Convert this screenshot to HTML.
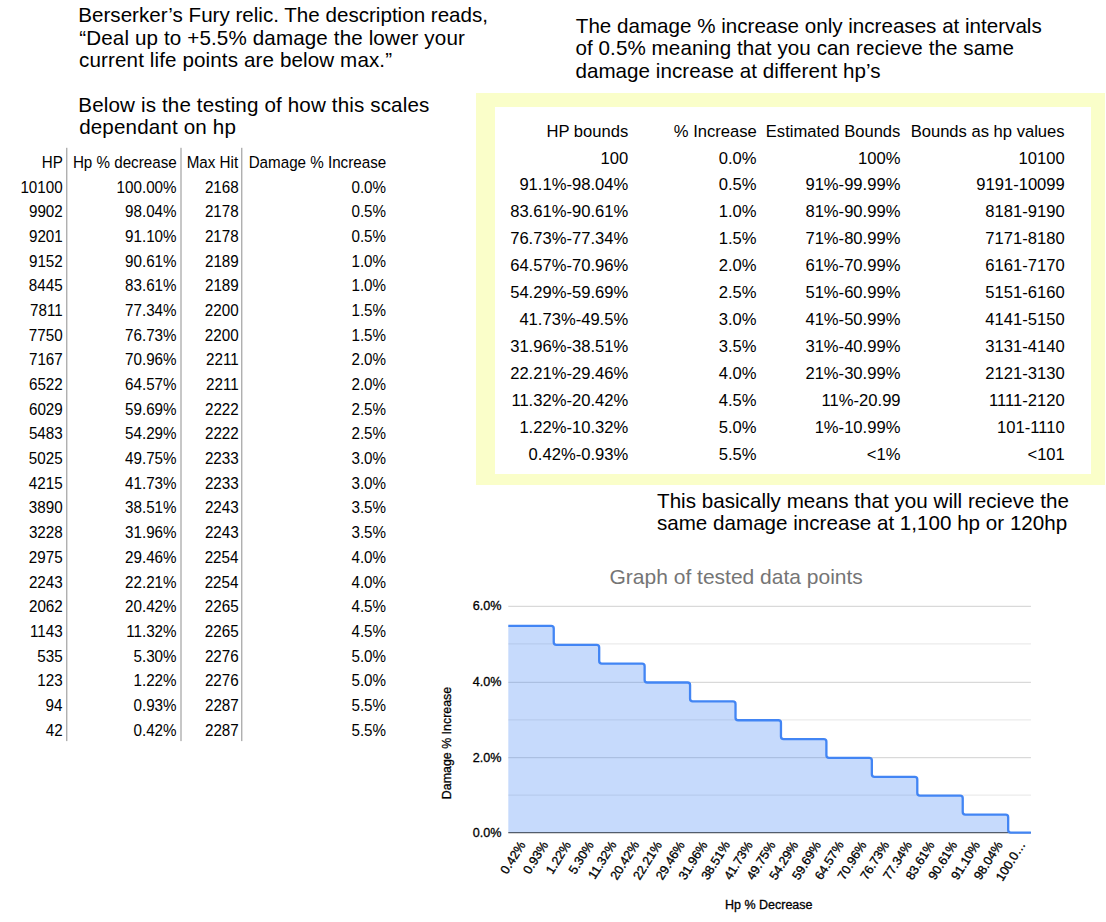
<!DOCTYPE html>
<html><head><meta charset="utf-8"><style>
html,body{margin:0;padding:0;background:#fff;width:1106px;height:922px;overflow:hidden}
svg{display:block}
text{font-family:"Liberation Sans",sans-serif;white-space:pre}
</style></head><body>
<svg width="1106" height="922" viewBox="0 0 1106 922">
<rect width="1106" height="922" fill="#fff"/>
<rect x="476" y="93" width="629" height="392" fill="#fafec9"/><rect x="495" y="107" width="596" height="367" fill="#fff"/>
<text x="78.31" y="22.30" font-size="20.6" text-anchor="start" fill="#000">Berserker’s Fury relic. The description reads,</text>
<text x="79.25" y="44.70" font-size="20.6" text-anchor="start" fill="#000" letter-spacing="0.130">“Deal up to +5.5% damage the lower your</text>
<text x="79.12" y="67.10" font-size="20.6" text-anchor="start" fill="#000" letter-spacing="0.115">current life points are below max.”</text>
<text x="78.31" y="111.90" font-size="20.6" text-anchor="start" fill="#000" letter-spacing="0.140">Below is the testing of how this scales</text>
<text x="79.13" y="134.30" font-size="20.6" text-anchor="start" fill="#000" letter-spacing="0.150">dependant on hp</text>
<text x="575.84" y="33.20" font-size="20.6" text-anchor="start" fill="#000">The damage % increase only increases at intervals</text>
<text x="575.43" y="55.40" font-size="20.6" text-anchor="start" fill="#000" letter-spacing="0.080">of 0.5% meaning that you can recieve the same</text>
<text x="575.43" y="77.60" font-size="20.6" text-anchor="start" fill="#000" letter-spacing="0.040">damage increase at different hp’s</text>
<text x="657.04" y="507.50" font-size="20.6" text-anchor="start" fill="#000" letter-spacing="0.020">This basically means that you will recieve the</text>
<text x="656.93" y="529.70" font-size="20.6" text-anchor="start" fill="#000" letter-spacing="0.010">same damage increase at 1,100 hp or 120hp</text>
<text transform="matrix(1 0 0 1.03 62.80 167.70)" font-size="15.2" text-anchor="end" fill="#000">HP</text>
<text transform="matrix(1 0 0 1.03 176.68 167.70)" font-size="15.2" text-anchor="end" fill="#000">Hp % decrease</text>
<text transform="matrix(1 0 0 1.03 238.11 167.70)" font-size="15.2" text-anchor="end" fill="#000">Max Hit</text>
<text transform="matrix(1 0 0 1.03 386.18 167.70)" font-size="15.2" text-anchor="end" fill="#000">Damage % Increase</text>
<text transform="matrix(1 0 0 1.03 62.59 192.50)" font-size="15.2" text-anchor="end" fill="#000">10100</text>
<text transform="matrix(1 0 0 1.03 176.54 192.50)" font-size="15.2" text-anchor="end" fill="#000">100.00%</text>
<text transform="matrix(1 0 0 1.03 238.66 192.50)" font-size="15.2" text-anchor="end" fill="#000">2168</text>
<text transform="matrix(1 0 0 1.03 386.04 192.50)" font-size="15.2" text-anchor="end" fill="#000">0.0%</text>
<text transform="matrix(1 0 0 1.03 62.76 217.19)" font-size="15.2" text-anchor="end" fill="#000">9902</text>
<text transform="matrix(1 0 0 1.03 176.54 217.19)" font-size="15.2" text-anchor="end" fill="#000">98.04%</text>
<text transform="matrix(1 0 0 1.03 238.66 217.19)" font-size="15.2" text-anchor="end" fill="#000">2178</text>
<text transform="matrix(1 0 0 1.03 386.04 217.19)" font-size="15.2" text-anchor="end" fill="#000">0.5%</text>
<text transform="matrix(1 0 0 1.03 62.74 241.88)" font-size="15.2" text-anchor="end" fill="#000">9201</text>
<text transform="matrix(1 0 0 1.03 176.54 241.88)" font-size="15.2" text-anchor="end" fill="#000">91.10%</text>
<text transform="matrix(1 0 0 1.03 238.66 241.88)" font-size="15.2" text-anchor="end" fill="#000">2178</text>
<text transform="matrix(1 0 0 1.03 386.04 241.88)" font-size="15.2" text-anchor="end" fill="#000">0.5%</text>
<text transform="matrix(1 0 0 1.03 62.76 266.57)" font-size="15.2" text-anchor="end" fill="#000">9152</text>
<text transform="matrix(1 0 0 1.03 176.54 266.57)" font-size="15.2" text-anchor="end" fill="#000">90.61%</text>
<text transform="matrix(1 0 0 1.03 238.72 266.57)" font-size="15.2" text-anchor="end" fill="#000">2189</text>
<text transform="matrix(1 0 0 1.03 386.04 266.57)" font-size="15.2" text-anchor="end" fill="#000">1.0%</text>
<text transform="matrix(1 0 0 1.03 62.64 291.26)" font-size="15.2" text-anchor="end" fill="#000">8445</text>
<text transform="matrix(1 0 0 1.03 176.54 291.26)" font-size="15.2" text-anchor="end" fill="#000">83.61%</text>
<text transform="matrix(1 0 0 1.03 238.72 291.26)" font-size="15.2" text-anchor="end" fill="#000">2189</text>
<text transform="matrix(1 0 0 1.03 386.04 291.26)" font-size="15.2" text-anchor="end" fill="#000">1.0%</text>
<text transform="matrix(1 0 0 1.03 62.74 315.95)" font-size="15.2" text-anchor="end" fill="#000">7811</text>
<text transform="matrix(1 0 0 1.03 176.54 315.95)" font-size="15.2" text-anchor="end" fill="#000">77.34%</text>
<text transform="matrix(1 0 0 1.03 238.59 315.95)" font-size="15.2" text-anchor="end" fill="#000">2200</text>
<text transform="matrix(1 0 0 1.03 386.04 315.95)" font-size="15.2" text-anchor="end" fill="#000">1.5%</text>
<text transform="matrix(1 0 0 1.03 62.59 340.64)" font-size="15.2" text-anchor="end" fill="#000">7750</text>
<text transform="matrix(1 0 0 1.03 176.54 340.64)" font-size="15.2" text-anchor="end" fill="#000">76.73%</text>
<text transform="matrix(1 0 0 1.03 238.59 340.64)" font-size="15.2" text-anchor="end" fill="#000">2200</text>
<text transform="matrix(1 0 0 1.03 386.04 340.64)" font-size="15.2" text-anchor="end" fill="#000">1.5%</text>
<text transform="matrix(1 0 0 1.03 62.76 365.33)" font-size="15.2" text-anchor="end" fill="#000">7167</text>
<text transform="matrix(1 0 0 1.03 176.54 365.33)" font-size="15.2" text-anchor="end" fill="#000">70.96%</text>
<text transform="matrix(1 0 0 1.03 238.74 365.33)" font-size="15.2" text-anchor="end" fill="#000">2211</text>
<text transform="matrix(1 0 0 1.03 386.04 365.33)" font-size="15.2" text-anchor="end" fill="#000">2.0%</text>
<text transform="matrix(1 0 0 1.03 62.76 390.02)" font-size="15.2" text-anchor="end" fill="#000">6522</text>
<text transform="matrix(1 0 0 1.03 176.54 390.02)" font-size="15.2" text-anchor="end" fill="#000">64.57%</text>
<text transform="matrix(1 0 0 1.03 238.74 390.02)" font-size="15.2" text-anchor="end" fill="#000">2211</text>
<text transform="matrix(1 0 0 1.03 386.04 390.02)" font-size="15.2" text-anchor="end" fill="#000">2.0%</text>
<text transform="matrix(1 0 0 1.03 62.72 414.71)" font-size="15.2" text-anchor="end" fill="#000">6029</text>
<text transform="matrix(1 0 0 1.03 176.54 414.71)" font-size="15.2" text-anchor="end" fill="#000">59.69%</text>
<text transform="matrix(1 0 0 1.03 238.76 414.71)" font-size="15.2" text-anchor="end" fill="#000">2222</text>
<text transform="matrix(1 0 0 1.03 386.04 414.71)" font-size="15.2" text-anchor="end" fill="#000">2.5%</text>
<text transform="matrix(1 0 0 1.03 62.67 439.40)" font-size="15.2" text-anchor="end" fill="#000">5483</text>
<text transform="matrix(1 0 0 1.03 176.54 439.40)" font-size="15.2" text-anchor="end" fill="#000">54.29%</text>
<text transform="matrix(1 0 0 1.03 238.76 439.40)" font-size="15.2" text-anchor="end" fill="#000">2222</text>
<text transform="matrix(1 0 0 1.03 386.04 439.40)" font-size="15.2" text-anchor="end" fill="#000">2.5%</text>
<text transform="matrix(1 0 0 1.03 62.64 464.09)" font-size="15.2" text-anchor="end" fill="#000">5025</text>
<text transform="matrix(1 0 0 1.03 176.54 464.09)" font-size="15.2" text-anchor="end" fill="#000">49.75%</text>
<text transform="matrix(1 0 0 1.03 238.67 464.09)" font-size="15.2" text-anchor="end" fill="#000">2233</text>
<text transform="matrix(1 0 0 1.03 386.04 464.09)" font-size="15.2" text-anchor="end" fill="#000">3.0%</text>
<text transform="matrix(1 0 0 1.03 62.64 488.78)" font-size="15.2" text-anchor="end" fill="#000">4215</text>
<text transform="matrix(1 0 0 1.03 176.54 488.78)" font-size="15.2" text-anchor="end" fill="#000">41.73%</text>
<text transform="matrix(1 0 0 1.03 238.67 488.78)" font-size="15.2" text-anchor="end" fill="#000">2233</text>
<text transform="matrix(1 0 0 1.03 386.04 488.78)" font-size="15.2" text-anchor="end" fill="#000">3.0%</text>
<text transform="matrix(1 0 0 1.03 62.59 513.47)" font-size="15.2" text-anchor="end" fill="#000">3890</text>
<text transform="matrix(1 0 0 1.03 176.54 513.47)" font-size="15.2" text-anchor="end" fill="#000">38.51%</text>
<text transform="matrix(1 0 0 1.03 238.67 513.47)" font-size="15.2" text-anchor="end" fill="#000">2243</text>
<text transform="matrix(1 0 0 1.03 386.04 513.47)" font-size="15.2" text-anchor="end" fill="#000">3.5%</text>
<text transform="matrix(1 0 0 1.03 62.66 538.16)" font-size="15.2" text-anchor="end" fill="#000">3228</text>
<text transform="matrix(1 0 0 1.03 176.54 538.16)" font-size="15.2" text-anchor="end" fill="#000">31.96%</text>
<text transform="matrix(1 0 0 1.03 238.67 538.16)" font-size="15.2" text-anchor="end" fill="#000">2243</text>
<text transform="matrix(1 0 0 1.03 386.04 538.16)" font-size="15.2" text-anchor="end" fill="#000">3.5%</text>
<text transform="matrix(1 0 0 1.03 62.64 562.85)" font-size="15.2" text-anchor="end" fill="#000">2975</text>
<text transform="matrix(1 0 0 1.03 176.54 562.85)" font-size="15.2" text-anchor="end" fill="#000">29.46%</text>
<text transform="matrix(1 0 0 1.03 238.45 562.85)" font-size="15.2" text-anchor="end" fill="#000">2254</text>
<text transform="matrix(1 0 0 1.03 386.04 562.85)" font-size="15.2" text-anchor="end" fill="#000">4.0%</text>
<text transform="matrix(1 0 0 1.03 62.67 587.54)" font-size="15.2" text-anchor="end" fill="#000">2243</text>
<text transform="matrix(1 0 0 1.03 176.54 587.54)" font-size="15.2" text-anchor="end" fill="#000">22.21%</text>
<text transform="matrix(1 0 0 1.03 238.45 587.54)" font-size="15.2" text-anchor="end" fill="#000">2254</text>
<text transform="matrix(1 0 0 1.03 386.04 587.54)" font-size="15.2" text-anchor="end" fill="#000">4.0%</text>
<text transform="matrix(1 0 0 1.03 62.76 612.23)" font-size="15.2" text-anchor="end" fill="#000">2062</text>
<text transform="matrix(1 0 0 1.03 176.54 612.23)" font-size="15.2" text-anchor="end" fill="#000">20.42%</text>
<text transform="matrix(1 0 0 1.03 238.64 612.23)" font-size="15.2" text-anchor="end" fill="#000">2265</text>
<text transform="matrix(1 0 0 1.03 386.04 612.23)" font-size="15.2" text-anchor="end" fill="#000">4.5%</text>
<text transform="matrix(1 0 0 1.03 62.67 636.92)" font-size="15.2" text-anchor="end" fill="#000">1143</text>
<text transform="matrix(1 0 0 1.03 176.54 636.92)" font-size="15.2" text-anchor="end" fill="#000">11.32%</text>
<text transform="matrix(1 0 0 1.03 238.64 636.92)" font-size="15.2" text-anchor="end" fill="#000">2265</text>
<text transform="matrix(1 0 0 1.03 386.04 636.92)" font-size="15.2" text-anchor="end" fill="#000">4.5%</text>
<text transform="matrix(1 0 0 1.03 62.64 661.61)" font-size="15.2" text-anchor="end" fill="#000">535</text>
<text transform="matrix(1 0 0 1.03 176.54 661.61)" font-size="15.2" text-anchor="end" fill="#000">5.30%</text>
<text transform="matrix(1 0 0 1.03 238.67 661.61)" font-size="15.2" text-anchor="end" fill="#000">2276</text>
<text transform="matrix(1 0 0 1.03 386.04 661.61)" font-size="15.2" text-anchor="end" fill="#000">5.0%</text>
<text transform="matrix(1 0 0 1.03 62.67 686.30)" font-size="15.2" text-anchor="end" fill="#000">123</text>
<text transform="matrix(1 0 0 1.03 176.54 686.30)" font-size="15.2" text-anchor="end" fill="#000">1.22%</text>
<text transform="matrix(1 0 0 1.03 238.67 686.30)" font-size="15.2" text-anchor="end" fill="#000">2276</text>
<text transform="matrix(1 0 0 1.03 386.04 686.30)" font-size="15.2" text-anchor="end" fill="#000">5.0%</text>
<text transform="matrix(1 0 0 1.03 62.45 710.99)" font-size="15.2" text-anchor="end" fill="#000">94</text>
<text transform="matrix(1 0 0 1.03 176.54 710.99)" font-size="15.2" text-anchor="end" fill="#000">0.93%</text>
<text transform="matrix(1 0 0 1.03 238.76 710.99)" font-size="15.2" text-anchor="end" fill="#000">2287</text>
<text transform="matrix(1 0 0 1.03 386.04 710.99)" font-size="15.2" text-anchor="end" fill="#000">5.5%</text>
<text transform="matrix(1 0 0 1.03 62.76 735.68)" font-size="15.2" text-anchor="end" fill="#000">42</text>
<text transform="matrix(1 0 0 1.03 176.54 735.68)" font-size="15.2" text-anchor="end" fill="#000">0.42%</text>
<text transform="matrix(1 0 0 1.03 238.76 735.68)" font-size="15.2" text-anchor="end" fill="#000">2287</text>
<text transform="matrix(1 0 0 1.03 386.04 735.68)" font-size="15.2" text-anchor="end" fill="#000">5.5%</text>
<rect x="66.30" y="147.8" width="1.0" height="593.3" fill="#8f8f8f"/>
<rect x="180.50" y="147.8" width="1.0" height="593.3" fill="#8f8f8f"/>
<rect x="241.30" y="147.8" width="1.0" height="593.3" fill="#8f8f8f"/>
<text transform="matrix(1 0 0 1.02 628.20 137.10)" font-size="16.6" text-anchor="end" fill="#000">HP bounds</text>
<text transform="matrix(1 0 0 1.02 756.74 137.10)" font-size="16.6" text-anchor="end" fill="#000">% Increase</text>
<text transform="matrix(1 0 0 1.02 900.40 137.10)" font-size="16.6" text-anchor="end" fill="#000">Estimated Bounds</text>
<text transform="matrix(1 0 0 1.02 1064.60 137.10)" font-size="16.6" text-anchor="end" fill="#000">Bounds as hp values</text>
<text transform="matrix(1 0 0 1.02 628.25 163.50)" font-size="16.6" text-anchor="end" fill="#000">100</text>
<text transform="matrix(1 0 0 1.02 756.59 163.50)" font-size="16.6" text-anchor="end" fill="#000">0.0%</text>
<text transform="matrix(1 0 0 1.02 900.39 163.50)" font-size="16.6" text-anchor="end" fill="#000">100%</text>
<text transform="matrix(1 0 0 1.02 1064.65 163.50)" font-size="16.6" text-anchor="end" fill="#000">10100</text>
<text transform="matrix(1 0 0 1.02 628.19 190.47)" font-size="16.6" text-anchor="end" fill="#000">91.1%-98.04%</text>
<text transform="matrix(1 0 0 1.02 756.59 190.47)" font-size="16.6" text-anchor="end" fill="#000">0.5%</text>
<text transform="matrix(1 0 0 1.02 900.39 190.47)" font-size="16.6" text-anchor="end" fill="#000">91%-99.99%</text>
<text transform="matrix(1 0 0 1.02 1064.79 190.47)" font-size="16.6" text-anchor="end" fill="#000">9191-10099</text>
<text transform="matrix(1 0 0 1.02 628.19 217.44)" font-size="16.6" text-anchor="end" fill="#000">83.61%-90.61%</text>
<text transform="matrix(1 0 0 1.02 756.59 217.44)" font-size="16.6" text-anchor="end" fill="#000">1.0%</text>
<text transform="matrix(1 0 0 1.02 900.39 217.44)" font-size="16.6" text-anchor="end" fill="#000">81%-90.99%</text>
<text transform="matrix(1 0 0 1.02 1064.65 217.44)" font-size="16.6" text-anchor="end" fill="#000">8181-9190</text>
<text transform="matrix(1 0 0 1.02 628.19 244.41)" font-size="16.6" text-anchor="end" fill="#000">76.73%-77.34%</text>
<text transform="matrix(1 0 0 1.02 756.59 244.41)" font-size="16.6" text-anchor="end" fill="#000">1.5%</text>
<text transform="matrix(1 0 0 1.02 900.39 244.41)" font-size="16.6" text-anchor="end" fill="#000">71%-80.99%</text>
<text transform="matrix(1 0 0 1.02 1064.65 244.41)" font-size="16.6" text-anchor="end" fill="#000">7171-8180</text>
<text transform="matrix(1 0 0 1.02 628.19 271.38)" font-size="16.6" text-anchor="end" fill="#000">64.57%-70.96%</text>
<text transform="matrix(1 0 0 1.02 756.59 271.38)" font-size="16.6" text-anchor="end" fill="#000">2.0%</text>
<text transform="matrix(1 0 0 1.02 900.39 271.38)" font-size="16.6" text-anchor="end" fill="#000">61%-70.99%</text>
<text transform="matrix(1 0 0 1.02 1064.65 271.38)" font-size="16.6" text-anchor="end" fill="#000">6161-7170</text>
<text transform="matrix(1 0 0 1.02 628.19 298.35)" font-size="16.6" text-anchor="end" fill="#000">54.29%-59.69%</text>
<text transform="matrix(1 0 0 1.02 756.59 298.35)" font-size="16.6" text-anchor="end" fill="#000">2.5%</text>
<text transform="matrix(1 0 0 1.02 900.39 298.35)" font-size="16.6" text-anchor="end" fill="#000">51%-60.99%</text>
<text transform="matrix(1 0 0 1.02 1064.65 298.35)" font-size="16.6" text-anchor="end" fill="#000">5151-6160</text>
<text transform="matrix(1 0 0 1.02 628.19 325.32)" font-size="16.6" text-anchor="end" fill="#000">41.73%-49.5%</text>
<text transform="matrix(1 0 0 1.02 756.59 325.32)" font-size="16.6" text-anchor="end" fill="#000">3.0%</text>
<text transform="matrix(1 0 0 1.02 900.39 325.32)" font-size="16.6" text-anchor="end" fill="#000">41%-50.99%</text>
<text transform="matrix(1 0 0 1.02 1064.65 325.32)" font-size="16.6" text-anchor="end" fill="#000">4141-5150</text>
<text transform="matrix(1 0 0 1.02 628.19 352.29)" font-size="16.6" text-anchor="end" fill="#000">31.96%-38.51%</text>
<text transform="matrix(1 0 0 1.02 756.59 352.29)" font-size="16.6" text-anchor="end" fill="#000">3.5%</text>
<text transform="matrix(1 0 0 1.02 900.39 352.29)" font-size="16.6" text-anchor="end" fill="#000">31%-40.99%</text>
<text transform="matrix(1 0 0 1.02 1064.65 352.29)" font-size="16.6" text-anchor="end" fill="#000">3131-4140</text>
<text transform="matrix(1 0 0 1.02 628.19 379.26)" font-size="16.6" text-anchor="end" fill="#000">22.21%-29.46%</text>
<text transform="matrix(1 0 0 1.02 756.59 379.26)" font-size="16.6" text-anchor="end" fill="#000">4.0%</text>
<text transform="matrix(1 0 0 1.02 900.39 379.26)" font-size="16.6" text-anchor="end" fill="#000">21%-30.99%</text>
<text transform="matrix(1 0 0 1.02 1064.65 379.26)" font-size="16.6" text-anchor="end" fill="#000">2121-3130</text>
<text transform="matrix(1 0 0 1.02 628.19 406.23)" font-size="16.6" text-anchor="end" fill="#000">11.32%-20.42%</text>
<text transform="matrix(1 0 0 1.02 756.59 406.23)" font-size="16.6" text-anchor="end" fill="#000">4.5%</text>
<text transform="matrix(1 0 0 1.02 900.59 406.23)" font-size="16.6" text-anchor="end" fill="#000">11%-20.99</text>
<text transform="matrix(1 0 0 1.02 1064.65 406.23)" font-size="16.6" text-anchor="end" fill="#000">1111-2120</text>
<text transform="matrix(1 0 0 1.02 628.19 433.20)" font-size="16.6" text-anchor="end" fill="#000">1.22%-10.32%</text>
<text transform="matrix(1 0 0 1.02 756.59 433.20)" font-size="16.6" text-anchor="end" fill="#000">5.0%</text>
<text transform="matrix(1 0 0 1.02 900.39 433.20)" font-size="16.6" text-anchor="end" fill="#000">1%-10.99%</text>
<text transform="matrix(1 0 0 1.02 1064.65 433.20)" font-size="16.6" text-anchor="end" fill="#000">101-1110</text>
<text transform="matrix(1 0 0 1.02 628.19 460.17)" font-size="16.6" text-anchor="end" fill="#000">0.42%-0.93%</text>
<text transform="matrix(1 0 0 1.02 756.59 460.17)" font-size="16.6" text-anchor="end" fill="#000">5.5%</text>
<text transform="matrix(1 0 0 1.02 900.39 460.17)" font-size="16.6" text-anchor="end" fill="#000">&lt;1%</text>
<text transform="matrix(1 0 0 1.02 1064.81 460.17)" font-size="16.6" text-anchor="end" fill="#000">&lt;101</text>
<line x1="508.3" x2="1030.9" y1="795.10" y2="795.10" stroke="#ebebeb" stroke-width="1.3"/>
<line x1="508.3" x2="1030.9" y1="719.90" y2="719.90" stroke="#ebebeb" stroke-width="1.3"/>
<line x1="508.3" x2="1030.9" y1="643.90" y2="643.90" stroke="#ebebeb" stroke-width="1.3"/>
<line x1="508.3" x2="1030.9" y1="757.60" y2="757.60" stroke="#d9d9d9" stroke-width="1.3"/>
<line x1="508.3" x2="1030.9" y1="682.30" y2="682.30" stroke="#d9d9d9" stroke-width="1.3"/>
<line x1="508.3" x2="1030.9" y1="606.30" y2="606.30" stroke="#d9d9d9" stroke-width="1.3"/>
<line x1="508.3" x2="1030.9" y1="832.6" y2="832.6" stroke="#555" stroke-width="1.4"/>
<path d="M508.30,625.94 L531.02,625.94 L531.02,625.94 L553.74,625.94 L553.74,644.80 L576.47,644.80 L576.47,644.80 L599.19,644.80 L599.19,663.66 L621.91,663.66 L621.91,663.66 L644.63,663.66 L644.63,682.52 L667.35,682.52 L667.35,682.52 L690.07,682.52 L690.07,701.38 L712.80,701.38 L712.80,701.38 L735.52,701.38 L735.52,720.24 L758.24,720.24 L758.24,720.24 L780.96,720.24 L780.96,739.10 L803.68,739.10 L803.68,739.10 L826.40,739.10 L826.40,757.96 L849.13,757.96 L849.13,757.96 L871.85,757.96 L871.85,776.82 L894.57,776.82 L894.57,776.82 L917.29,776.82 L917.29,795.68 L940.01,795.68 L940.01,795.68 L962.73,795.68 L962.73,814.54 L985.46,814.54 L985.46,814.54 L1008.18,814.54 L1008.18,832.60 L1030.90,832.60 L1030.90,832.60 L508.30,832.60 Z" fill="#4285f4" fill-opacity="0.3"/>
<path d="M508.30,625.94 L551.14,625.94 Q553.74,625.94 553.74,628.54 L553.74,642.20 Q553.74,644.80 556.34,644.80 L596.59,644.80 Q599.19,644.80 599.19,647.40 L599.19,661.06 Q599.19,663.66 601.79,663.66 L642.03,663.66 Q644.63,663.66 644.63,666.26 L644.63,679.92 Q644.63,682.52 647.23,682.52 L687.47,682.52 Q690.07,682.52 690.07,685.12 L690.07,698.78 Q690.07,701.38 692.67,701.38 L732.92,701.38 Q735.52,701.38 735.52,703.98 L735.52,717.64 Q735.52,720.24 738.12,720.24 L778.36,720.24 Q780.96,720.24 780.96,722.84 L780.96,736.50 Q780.96,739.10 783.56,739.10 L823.80,739.10 Q826.40,739.10 826.40,741.70 L826.40,755.36 Q826.40,757.96 829.00,757.96 L869.25,757.96 Q871.85,757.96 871.85,760.56 L871.85,774.22 Q871.85,776.82 874.45,776.82 L914.69,776.82 Q917.29,776.82 917.29,779.42 L917.29,793.08 Q917.29,795.68 919.89,795.68 L960.13,795.68 Q962.73,795.68 962.73,798.28 L962.73,811.94 Q962.73,814.54 965.33,814.54 L1005.58,814.54 Q1008.18,814.54 1008.18,817.14 L1008.18,830.00 Q1008.18,832.60 1010.78,832.60 L1030.90,832.60" fill="none" stroke="#4285f4" stroke-width="2.3" stroke-linejoin="round" stroke-linecap="butt"/>
<text x="501.45" y="836.50" font-size="12.6" text-anchor="end" fill="#000" stroke="#000" stroke-width="0.3">0.0%</text>
<text x="501.45" y="761.50" font-size="12.6" text-anchor="end" fill="#000" stroke="#000" stroke-width="0.3">2.0%</text>
<text x="501.45" y="686.20" font-size="12.6" text-anchor="end" fill="#000" stroke="#000" stroke-width="0.3">4.0%</text>
<text x="501.45" y="610.20" font-size="12.6" text-anchor="end" fill="#000" stroke="#000" stroke-width="0.3">6.0%</text>
<text x="522.66" y="842.50" font-size="12.6" text-anchor="end" fill="#000" stroke="#000" stroke-width="0.3" transform="rotate(-58 522.66 842.50)" dominant-baseline="central">0.42%</text>
<text x="545.38" y="842.50" font-size="12.6" text-anchor="end" fill="#000" stroke="#000" stroke-width="0.3" transform="rotate(-58 545.38 842.50)" dominant-baseline="central">0.93%</text>
<text x="568.10" y="842.50" font-size="12.6" text-anchor="end" fill="#000" stroke="#000" stroke-width="0.3" transform="rotate(-58 568.10 842.50)" dominant-baseline="central">1.22%</text>
<text x="590.83" y="842.50" font-size="12.6" text-anchor="end" fill="#000" stroke="#000" stroke-width="0.3" transform="rotate(-58 590.83 842.50)" dominant-baseline="central">5.30%</text>
<text x="613.55" y="842.50" font-size="12.6" text-anchor="end" fill="#000" stroke="#000" stroke-width="0.3" transform="rotate(-58 613.55 842.50)" dominant-baseline="central">11.32%</text>
<text x="636.27" y="842.50" font-size="12.6" text-anchor="end" fill="#000" stroke="#000" stroke-width="0.3" transform="rotate(-58 636.27 842.50)" dominant-baseline="central">20.42%</text>
<text x="658.99" y="842.50" font-size="12.6" text-anchor="end" fill="#000" stroke="#000" stroke-width="0.3" transform="rotate(-58 658.99 842.50)" dominant-baseline="central">22.21%</text>
<text x="681.71" y="842.50" font-size="12.6" text-anchor="end" fill="#000" stroke="#000" stroke-width="0.3" transform="rotate(-58 681.71 842.50)" dominant-baseline="central">29.46%</text>
<text x="704.43" y="842.50" font-size="12.6" text-anchor="end" fill="#000" stroke="#000" stroke-width="0.3" transform="rotate(-58 704.43 842.50)" dominant-baseline="central">31.96%</text>
<text x="727.16" y="842.50" font-size="12.6" text-anchor="end" fill="#000" stroke="#000" stroke-width="0.3" transform="rotate(-58 727.16 842.50)" dominant-baseline="central">38.51%</text>
<text x="749.88" y="842.50" font-size="12.6" text-anchor="end" fill="#000" stroke="#000" stroke-width="0.3" transform="rotate(-58 749.88 842.50)" dominant-baseline="central">41.73%</text>
<text x="772.60" y="842.50" font-size="12.6" text-anchor="end" fill="#000" stroke="#000" stroke-width="0.3" transform="rotate(-58 772.60 842.50)" dominant-baseline="central">49.75%</text>
<text x="795.32" y="842.50" font-size="12.6" text-anchor="end" fill="#000" stroke="#000" stroke-width="0.3" transform="rotate(-58 795.32 842.50)" dominant-baseline="central">54.29%</text>
<text x="818.04" y="842.50" font-size="12.6" text-anchor="end" fill="#000" stroke="#000" stroke-width="0.3" transform="rotate(-58 818.04 842.50)" dominant-baseline="central">59.69%</text>
<text x="840.77" y="842.50" font-size="12.6" text-anchor="end" fill="#000" stroke="#000" stroke-width="0.3" transform="rotate(-58 840.77 842.50)" dominant-baseline="central">64.57%</text>
<text x="863.49" y="842.50" font-size="12.6" text-anchor="end" fill="#000" stroke="#000" stroke-width="0.3" transform="rotate(-58 863.49 842.50)" dominant-baseline="central">70.96%</text>
<text x="886.21" y="842.50" font-size="12.6" text-anchor="end" fill="#000" stroke="#000" stroke-width="0.3" transform="rotate(-58 886.21 842.50)" dominant-baseline="central">76.73%</text>
<text x="908.93" y="842.50" font-size="12.6" text-anchor="end" fill="#000" stroke="#000" stroke-width="0.3" transform="rotate(-58 908.93 842.50)" dominant-baseline="central">77.34%</text>
<text x="931.65" y="842.50" font-size="12.6" text-anchor="end" fill="#000" stroke="#000" stroke-width="0.3" transform="rotate(-58 931.65 842.50)" dominant-baseline="central">83.61%</text>
<text x="954.37" y="842.50" font-size="12.6" text-anchor="end" fill="#000" stroke="#000" stroke-width="0.3" transform="rotate(-58 954.37 842.50)" dominant-baseline="central">90.61%</text>
<text x="977.10" y="842.50" font-size="12.6" text-anchor="end" fill="#000" stroke="#000" stroke-width="0.3" transform="rotate(-58 977.10 842.50)" dominant-baseline="central">91.10%</text>
<text x="999.82" y="842.50" font-size="12.6" text-anchor="end" fill="#000" stroke="#000" stroke-width="0.3" transform="rotate(-58 999.82 842.50)" dominant-baseline="central">98.04%</text>
<text x="1022.54" y="842.50" font-size="12.6" text-anchor="end" fill="#000" stroke="#000" stroke-width="0.3" transform="rotate(-58 1022.54 842.50)" dominant-baseline="central">100.0…</text>
<text x="609.54" y="584.00" font-size="21.0" text-anchor="start" fill="#757575">Graph of tested data points</text>
<text x="724.97" y="908.90" font-size="12.5" text-anchor="start" fill="#000" stroke="#000" stroke-width="0.3">Hp % Decrease</text>
<text x="0" y="0" font-size="12.4" text-anchor="middle" fill="#000" stroke="#000" stroke-width="0.3" transform="translate(451.2 743) rotate(-90)">Damage % Increase</text>
</svg>
</body></html>
